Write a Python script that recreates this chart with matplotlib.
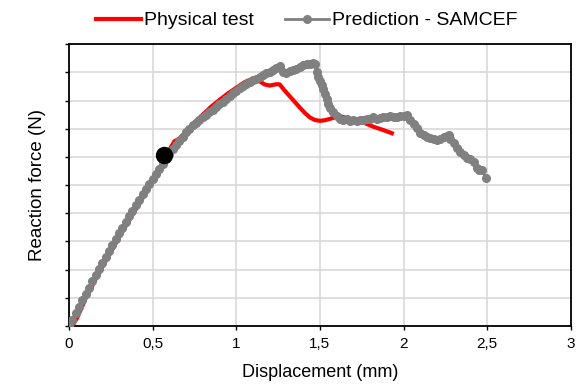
import matplotlib
matplotlib.use("Agg")
import matplotlib.pyplot as plt

plt.rcParams['font.family'] = ['Liberation Sans', 'DejaVu Sans']

# physical test (red)
test_x = [0.02, 0.05, 0.10, 0.15, 0.20, 0.25, 0.30, 0.35, 0.40, 0.45, 0.50, 0.55, 0.58,
          0.60, 0.63, 0.66, 0.70, 0.75, 0.80, 0.85, 0.90, 0.95, 1.00, 1.05, 1.10, 1.12,
          1.14, 1.17, 1.20, 1.24, 1.26, 1.29, 1.32, 1.35, 1.38, 1.41, 1.44, 1.47, 1.50,
          1.53, 1.56, 1.60, 1.63, 1.66, 1.70, 1.76, 1.82, 1.88, 1.93]
test_y = [0.00, 0.30, 0.98, 1.55, 2.10, 2.62, 3.15, 3.65, 4.15, 4.63, 5.10, 5.58, 5.98,
          6.25, 6.55, 6.65, 6.90, 7.22, 7.50, 7.78, 8.02, 8.25, 8.45, 8.65, 8.78, 8.80,
          8.68, 8.57, 8.53, 8.58, 8.57, 8.35, 8.15, 7.95, 7.75, 7.56, 7.40, 7.31, 7.28,
          7.30, 7.35, 7.42, 7.43, 7.38, 7.32, 7.22, 7.07, 6.95, 6.84]

# SAMCEF prediction (grey)
pred_x = [0.00, 0.02, 0.04, 0.06, 0.08, 0.10, 0.12, 0.14, 0.16, 0.18, 0.20, 0.22, 0.24,
          0.26, 0.28, 0.30, 0.32, 0.34, 0.36, 0.38, 0.40, 0.42, 0.44, 0.46, 0.48, 0.50,
          0.52, 0.54, 0.56, 0.58, 0.60, 0.62, 0.64, 0.66, 0.68, 0.70, 0.72, 0.74, 0.76,
          0.78, 0.80, 0.82, 0.84, 0.86, 0.88, 0.90, 0.92, 0.94, 0.96, 0.98, 1.00, 1.02,
          1.04, 1.06, 1.08, 1.10, 1.12, 1.14, 1.16, 1.18, 1.20, 1.22, 1.24, 1.26, 1.28,
          1.30, 1.32, 1.34, 1.36, 1.38, 1.40, 1.42, 1.44, 1.46, 1.47, 1.48, 1.49, 1.50,
          1.51, 1.52, 1.53, 1.54, 1.55, 1.56, 1.58, 1.60, 1.62, 1.64, 1.66, 1.68, 1.70,
          1.72, 1.74, 1.76, 1.78, 1.80, 1.82, 1.84, 1.86, 1.88, 1.90, 1.92, 1.94, 1.96,
          1.98, 2.00, 2.02, 2.04, 2.06, 2.08, 2.10, 2.12, 2.14, 2.16, 2.18, 2.20, 2.22,
          2.24, 2.26, 2.27, 2.28, 2.30, 2.32, 2.34, 2.36, 2.38, 2.40, 2.42, 2.44, 2.45,
          2.47, 2.49]
pred_y = [0.00, 0.23, 0.46, 0.69, 0.92, 1.14, 1.36, 1.58, 1.80, 2.02, 2.24, 2.45, 2.66,
          2.87, 3.08, 3.29, 3.49, 3.69, 3.89, 4.09, 4.29, 4.48, 4.67, 4.86, 5.04, 5.22,
          5.40, 5.58, 5.76, 5.94, 6.12, 6.28, 6.43, 6.58, 6.72, 6.87, 7.00, 7.12, 7.22,
          7.32, 7.40, 7.48, 7.58, 7.68, 7.78, 7.87, 7.95, 8.05, 8.15, 8.25, 8.34, 8.43,
          8.52, 8.58, 8.64, 8.72, 8.78, 8.82, 8.90, 8.96, 9.02, 9.08, 9.16, 9.24, 9.00,
          8.98, 9.04, 9.08, 9.12, 9.20, 9.26, 9.28, 9.30, 9.32, 9.28, 9.02, 8.85, 8.70,
          8.55, 8.40, 8.22, 8.05, 7.88, 7.72, 7.60, 7.45, 7.36, 7.32, 7.34, 7.28, 7.30,
          7.26, 7.32, 7.30, 7.36, 7.34, 7.40, 7.36, 7.38, 7.42, 7.40, 7.44, 7.42, 7.40,
          7.45, 7.46, 7.48, 7.32, 7.18, 7.02, 6.86, 6.78, 6.72, 6.66, 6.62, 6.60, 6.64,
          6.70, 6.74, 6.78, 6.62, 6.48, 6.32, 6.18, 6.06, 5.97, 5.92, 5.82, 5.62, 5.55,
          5.54, 5.24]

point_x = [0.57]
point_y = [6.05]

x_ticks = [0, 0.5, 1, 1.5, 2, 2.5, 3]
x_labels = ['0', '0,5', '1', '1,5', '2', '2,5', '3']

fig = plt.figure(figsize=(5.79, 3.84), dpi=100)
ax = fig.add_axes([0.119, 0.151, 0.867, 0.734])

ax.plot(test_x, test_y, color='#ff0000', lw=3, label='Physical test', zorder=3)
ax.plot(pred_x, pred_y, color='#808080', lw=2, marker='o', markersize=5.5,
        label='Prediction - SAMCEF', zorder=4)
ax.plot(point_x, point_y, 'o', color='black', markersize=11.5, zorder=5)

ax.set_xlim(0, 3)
ax.set_ylim(0, 10)
ax.set_xticks(x_ticks)
ax.set_xticklabels(x_labels, fontsize=11)
ax.set_yticks(range(0, 11))
ax.set_yticklabels([])
ax.tick_params(axis='both', length=3, width=1, direction='out')
ax.tick_params(axis='x', pad=5)
ax.grid(True, color='#d9d9d9', lw=1.2)
ax.set_axisbelow(True)
for s in ax.spines.values():
    s.set_linewidth(1.3)
    s.set_color('black')

ax.set_xlabel('Displacement (mm)', fontsize=13, labelpad=9)
ax.set_ylabel('Reaction force (N)', fontsize=13.5, labelpad=10)

fig.legend(loc='upper center', bbox_to_anchor=(0.53, 1.015), ncol=2, frameon=False,
           fontsize=14, handlelength=2.3, handletextpad=0.15, columnspacing=1.6)

fig.savefig('out.png', dpi=100)
